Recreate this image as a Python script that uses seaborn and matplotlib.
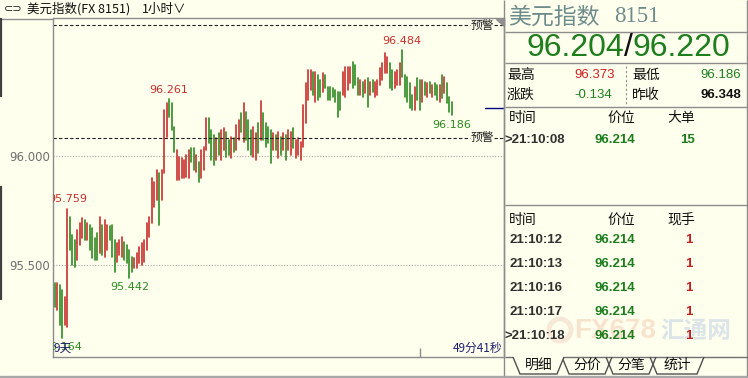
import matplotlib
matplotlib.use('Agg')
import matplotlib.pyplot as plt
from matplotlib.patches import Polygon, Circle
import numpy as np
import pandas as pd
import seaborn as sns

# ---------------- data ----------------
highs = [95.417, 95.417, 95.408, 95.385, 95.353, 95.759, 95.720, 95.638, 95.615, 95.661,
         95.693, 95.716, 95.706, 95.693, 95.683, 95.670, 95.624, 95.647, 95.720, 95.683,
         95.706, 95.683, 95.679, 95.683, 95.615, 95.601, 95.615, 95.628, 95.606, 95.592,
         95.569, 95.537, 95.532, 95.555, 95.583, 95.601, 95.615, 95.693, 95.720, 95.899,
         95.881, 95.936, 95.922, 95.936, 96.211, 96.243, 96.261, 96.243, 96.133, 96.028,
         95.995, 95.991, 95.982, 96.005, 96.028, 96.037, 96.037, 96.005, 95.972, 96.028,
         96.041, 96.174, 96.174, 96.119, 96.096, 96.083, 96.106, 96.119, 96.128, 96.110,
         96.073, 96.087, 96.083, 96.142, 96.165, 96.197, 96.243, 96.202, 96.165, 96.119,
         96.133, 96.106, 96.151, 96.250, 96.197, 96.151, 96.133, 96.119, 96.106, 96.096,
         96.110, 96.087, 96.106, 96.096, 96.119, 96.110, 96.128, 96.073, 96.083, 96.064,
         96.234, 96.335, 96.394, 96.394, 96.385, 96.385, 96.372, 96.349, 96.381, 96.372,
         96.317, 96.317, 96.312, 96.303, 96.294, 96.294, 96.385, 96.408, 96.408, 96.408,
         96.431, 96.417, 96.358, 96.349, 96.339, 96.349, 96.358, 96.339, 96.349, 96.339,
         96.349, 96.404, 96.427, 96.472, 96.454, 96.427, 96.394, 96.385, 96.394, 96.427,
         96.484, 96.372, 96.362, 96.335, 96.280, 96.317, 96.358, 96.349, 96.349, 96.339,
         96.335, 96.339, 96.326, 96.335, 96.326, 96.326, 96.372, 96.362, 96.335, 96.271,
         96.248]
lows = [95.307, 95.294, 95.225, 95.164, 95.225, 95.216, 95.569, 95.500, 95.491, 95.523,
        95.592, 95.624, 95.615, 95.615, 95.569, 95.532, 95.523, 95.523, 95.555, 95.546,
        95.537, 95.569, 95.615, 95.537, 95.468, 95.514, 95.546, 95.537, 95.523, 95.509,
        95.442, 95.468, 95.486, 95.486, 95.509, 95.500, 95.514, 95.569, 95.628, 95.693,
        95.766, 95.798, 95.683, 95.798, 95.922, 96.087, 96.179, 96.119, 96.018, 95.890,
        95.890, 95.899, 95.899, 95.904, 95.899, 95.972, 95.936, 95.927, 95.881, 95.899,
        95.936, 96.028, 96.060, 95.982, 95.959, 95.982, 96.005, 95.982, 96.028, 95.995,
        96.005, 95.991, 96.018, 96.028, 96.073, 96.110, 96.064, 96.073, 96.028, 96.005,
        95.995, 95.982, 96.014, 96.073, 96.073, 96.041, 96.060, 95.968, 96.028, 96.028,
        95.991, 96.005, 96.028, 95.982, 96.028, 96.005, 96.037, 95.991, 96.005, 95.982,
        96.041, 96.151, 96.257, 96.303, 96.280, 96.248, 96.257, 96.271, 96.294, 96.312,
        96.257, 96.257, 96.271, 96.248, 96.179, 96.211, 96.280, 96.271, 96.303, 96.335,
        96.312, 96.326, 96.280, 96.280, 96.271, 96.289, 96.225, 96.280, 96.294, 96.271,
        96.280, 96.326, 96.349, 96.381, 96.381, 96.312, 96.303, 96.312, 96.326, 96.326,
        96.362, 96.271, 96.248, 96.220, 96.211, 96.211, 96.257, 96.211, 96.248, 96.280,
        96.271, 96.289, 96.271, 96.280, 96.257, 96.248, 96.266, 96.289, 96.243, 96.202,
        96.186]
directions = list("grggrrgggr" "rrgrggggrg" "rrgggrrrgg" "ggrrrrrrrr" "rrgrrrgggr"
                  "rrrrrggrgr" "rrgggrgrrg" "grgrrgrggg" "rrgrggggrg" "rgrgrrgrrr"
                  "rrrrgrggrg" "ggggggrrrr" "gggrgrgrgr" "rrrrrggrrr" "gggggrggrg"
                  "rgrggrgrggg")
label_high_idx = [5, 46, 140]
label_low_idx = [3, 30, 160]
ytick_values = [95.5, 96.0]
alert_levels = [96.600, 96.083]
bid, ask = 96.204, 96.220
day_high, day_low, change, prev_close = 96.373, 96.186, -0.134, 96.348
big_time, big_price, big_vol = ">21:10:08", 96.214, 15
tick_times = ["21:10:12", "21:10:13", "21:10:16", "21:10:17", ">21:10:18"]
tick_prices = [96.214, 96.214, 96.214, 96.214, 96.214]
tick_vols = [1, 1, 1, 1, 1]
tabs = ["明细", "分价", "分笔", "统计"]

# ---------------- style ----------------
sns.set_style("white")
plt.rcParams['font.family'] = ['DejaVu Sans', 'Noto Sans CJK SC']
CJK = ['Noto Sans CJK SC', 'DejaVu Sans']
SANS = ['Liberation Sans', 'Noto Sans CJK SC']
BG = '#FFFFEE'
RED = '#C8302C'
GREEN = '#2F8A22'
PGREEN = '#1E7E1E'
GRAY = '#8C8C8C'

W, H = 748, 378
fig = plt.figure(figsize=(W / 100, H / 100), dpi=100, facecolor=BG)


def frac(x0, y0, x1, y1):
    return [x0 / W, 1 - y1 / H, (x1 - x0) / W, (y1 - y0) / H]


ax = fig.add_axes(frac(53, 18, 504, 357))
ax.set_facecolor(BG)

n = len(highs)
df = pd.DataFrame({
    'idx': np.repeat(np.arange(n), 2),
    'price': np.column_stack([lows, highs]).ravel(),
    'dir': np.repeat(directions, 2),
})
sns.lineplot(data=df, x='idx', y='price', hue='dir', units='idx', estimator=None,
             palette={'r': RED, 'g': GREEN}, linewidth=1.2, legend=False, ax=ax,
             sort=False)

ax.set_xlim(-0.8, 181)
ax.set_ylim(95.078, 96.633)
ax.set_xlabel('')
ax.set_ylabel('')
ax.set_xticks([])
ax.set_yticks(ytick_values)
ax.set_yticklabels([f"{v:.3f}" for v in ytick_values], color='#707070', fontsize=8.5)
ax.tick_params(axis='y', length=0, pad=2)
for v in ytick_values:
    ax.axhline(v, color='#A8A8A8', lw=0.8, ls=(0, (1, 1.5)), zorder=0)
for s in ax.spines.values():
    s.set_color(GRAY)
    s.set_linewidth(1)

# alert lines
for lv in alert_levels:
    ax.axhline(lv, xmin=0, xmax=0.925, color='#202020', lw=0.8, ls=(0, (3, 2)))
    ax.axhline(lv, xmin=0.978, xmax=1, color='#202020', lw=0.8, ls=(0, (3, 2)))
    ax.text(0.951, lv, '预警', transform=ax.get_yaxis_transform(), ha='center',
            va='center', fontsize=8.5, family=CJK, color='#202020')

# ask marker
ax.axhline(ask, xmin=0.958, xmax=1, color='#000080', lw=1)

# extreme labels
for i in label_high_idx:
    ax.annotate(f"{highs[i]:.3f}", xy=(i, highs[i]), xytext=(0, 3),
                textcoords='offset points', ha='center', va='bottom',
                color=RED, fontsize=8, annotation_clip=False, clip_on=True)
for i in label_low_idx:
    ax.annotate(f"{lows[i]:.3f}", xy=(i, lows[i]), xytext=(0, -3),
                textcoords='offset points', ha='center', va='top',
                color=GREEN, fontsize=8, annotation_clip=False, clip_on=True)

# ---------------- overlay ----------------
ov = fig.add_axes([0, 0, 1, 1])
ov.set_xlim(0, W)
ov.set_ylim(H, 0)
ov.axis('off')
ov.patch.set_alpha(0)


def hline(y, x0, x1, c=GRAY, lw=1):
    ov.plot([x0, x1], [y, y], color=c, lw=lw, solid_capstyle='butt')


def vline(x, y0, y1, c=GRAY, lw=1, ls='-'):
    ov.plot([x, x], [y0, y1], color=c, lw=lw, ls=ls, solid_capstyle='butt')


# title bar
ov.text(4, 9, '⊂⊃', fontsize=8, va='center', family=['DejaVu Sans'], color='#202020')
ov.text(27, 9, '美元指数(FX 8151)', fontsize=9, va='center', family=CJK, color='#101010')
ov.text(142, 9, '1小时∨', fontsize=9, va='center', family=CJK, color='#101010')
hline(18.5, 0, 53)
vline(1, 18, 97, c='#404040', lw=1.6)
vline(1, 186, 300, c='#404040', lw=1.6)
ov.add_patch(Polygon([[496, 18.5], [504, 18.5], [504, 26]], closed=True, color='#909090'))

# bottom texts
ov.text(54, 348, '9天', fontsize=8.5, va='center', family=CJK, color='#202070')
ov.text(502, 348, '49分41秒', fontsize=8.5, va='center', ha='right', family=CJK, color='#202070')
vline(420, 348, 357)
ov.add_patch(plt.Rectangle((0, 375.5), W, 3, color='#A8A8A8'))

# right panel frame
vline(504.5, 0, 376)
vline(747, 0, 376)
for y in (32, 63, 107, 205):
    hline(y, 505, 747)

ov.text(508, 17, '美元指数', fontsize=16.5, va='center', family=CJK, color='#6E8C8C')
ov.text(614, 17, '8151', fontsize=16.5, va='center', family=['Liberation Serif'], color='#6E8C8C')

ov.text(624, 48, f"{bid:.3f}", fontsize=23, va='center', ha='right', family=SANS, color=PGREEN)
ov.text(628.5, 48, '/', fontsize=23, va='center', ha='center', family=SANS, color='#101010')
ov.text(633, 48, f"{ask:.3f}", fontsize=23, va='center', ha='left', family=SANS, color=PGREEN)

ov.text(507, 75, '最高', fontsize=10, va='center', family=CJK, color='#101010')
ov.text(615, 75, f"{day_high:.3f}", fontsize=9.5, va='center', ha='right', family=SANS, color='#D02020')
ov.text(632, 75, '最低', fontsize=10, va='center', family=CJK, color='#101010')
ov.text(741, 75, f"{day_low:.3f}", fontsize=9.5, va='center', ha='right', family=SANS, color=PGREEN)
ov.text(507, 95, '涨跌', fontsize=10, va='center', family=CJK, color='#101010')
ov.text(612, 95, f"{change:.3f}", fontsize=9.5, va='center', ha='right', family=SANS, color=PGREEN)
ov.text(632, 95, '昨收', fontsize=10, va='center', family=CJK, color='#101010')
ov.text(741, 95, f"{prev_close:.3f}", fontsize=9.5, va='center', ha='right', family=SANS,
        color='#101010', fontweight='bold')
vline(626, 66, 105, c='#909090', lw=0.8, ls=(0, (2, 2)))

ov.text(509, 118, '时间', fontsize=10, va='center', family=CJK, color='#101010')
ov.text(607, 118, '价位', fontsize=10, va='center', family=CJK, color='#101010')
ov.text(667, 118, '大单', fontsize=10, va='center', family=CJK, color='#101010')
ov.text(505, 140, big_time, fontsize=9.5, va='center', family=SANS, color='#303030', fontweight='bold')
ov.text(635, 140, f"{big_price:.3f}", fontsize=9.5, va='center', ha='right', family=SANS,
        color=PGREEN, fontweight='bold')
ov.text(695, 140, f"{big_vol}", fontsize=9.5, va='center', ha='right', family=SANS,
        color=PGREEN, fontweight='bold')

ov.text(509, 220, '时间', fontsize=10, va='center', family=CJK, color='#101010')
ov.text(607, 220, '价位', fontsize=10, va='center', family=CJK, color='#101010')
ov.text(667, 220, '现手', fontsize=10, va='center', family=CJK, color='#101010')

# watermark (faint, behind the table text)
ov.add_patch(Circle((560, 330), 11, fill=False, ec='#F3DDCC', lw=3.5, alpha=0.7, zorder=0))
ov.text(574, 331, 'FX678', fontsize=20, va='center', family=['Liberation Sans'],
        fontweight='bold', color='#F6D8C0', alpha=0.7, zorder=0)
ov.text(660, 331, '汇通网', fontsize=17, va='center', family=CJK, fontweight='bold',
        color='#CCDAE8', alpha=0.7, zorder=0)

row_y = [240, 264, 288, 312, 336]
for y, t, p, v in zip(row_y, tick_times, tick_prices, tick_vols):
    x0 = 505 if t.startswith('>') else 510
    ov.text(x0, y, t, fontsize=9.5, va='center', family=SANS, color='#303030', fontweight='bold')
    ov.text(635, y, f"{p:.3f}", fontsize=9.5, va='center', ha='right', family=SANS,
            color=PGREEN, fontweight='bold')
    ov.text(693, y, f"{v}", fontsize=9.5, va='center', ha='right', family=SANS,
            color='#C02020', fontweight='bold')

# tabs
hline(357, 505, 747, c='#707070')
tab_x = [(513, 564), (562, 612), (606, 656), (650, 704)]
for k, ((a, b), lab) in enumerate(zip(tab_x, tabs)):
    pts = [[a, 357], [a + 7, 374], [b - 7, 374], [b, 357]]
    ov.add_patch(Polygon(pts, closed=False, fill=(k == 0), fc=BG, ec='#505050', lw=1,
                         zorder=3 if k == 0 else 2))
    ov.text((a + b) / 2, 365, lab, fontsize=10, va='center', ha='center', family=CJK,
            color='#101010', zorder=4)
hline(357, 513, 564, c=BG, lw=1.5)

fig.savefig('out.png', dpi=100, facecolor=BG)
